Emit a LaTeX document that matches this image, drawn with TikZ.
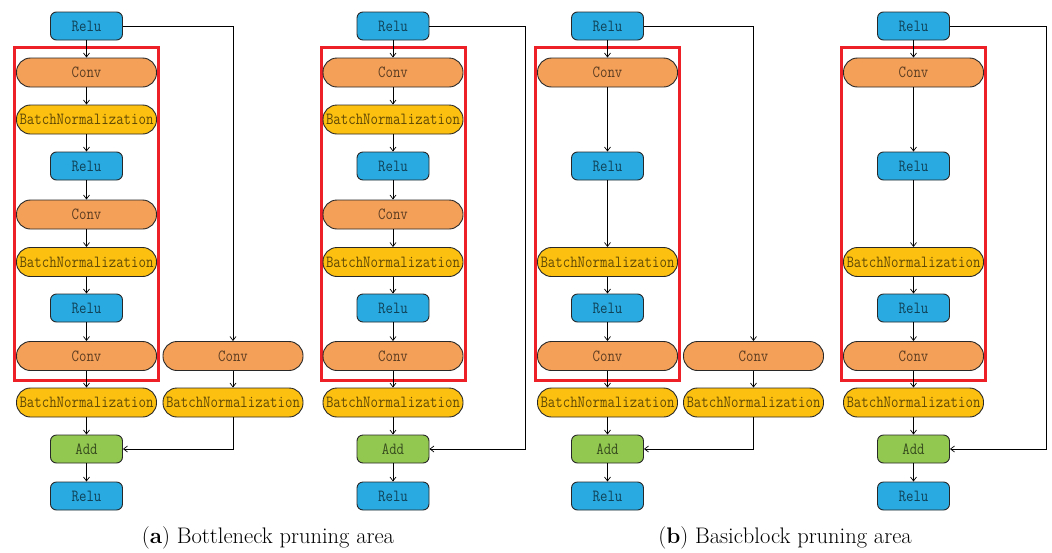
\documentclass[tikz,border=0pt]{standalone}
\usetikzlibrary{arrows.meta}
\definecolor{relublue}{RGB}{41,171,226}
\definecolor{convorange}{RGB}{244,160,88}
\definecolor{bnyellow}{RGB}{252,192,16}
\definecolor{addgreen}{RGB}{146,200,80}
\definecolor{boxred}{RGB}{237,32,40}
\definecolor{edgegray}{RGB}{40,40,40}
\newcommand{\lbl}[1]{\scalebox{0.85}[1]{#1}}
\tikzset{
  blk/.style={draw=edgegray,line width=0.9pt,text=black,text opacity=0.62,
    font=\fontsize{17}{18}\ttfamily,inner sep=0pt,anchor=center},
  relu/.style={blk,fill=relublue,rounded corners=6pt,minimum width=72pt,minimum height=28pt},
  addn/.style={blk,fill=addgreen,rounded corners=6pt,minimum width=72pt,minimum height=28pt},
  conv/.style={blk,fill=convorange,rounded corners=14pt,minimum width=140pt,minimum height=29pt},
  bn/.style={blk,fill=bnyellow,rounded corners=14pt,minimum width=140pt,minimum height=29pt},
  redbox/.style={draw=boxred,line width=3pt},
  arr/.style={draw=black,line width=0.7pt,-{Straight Barb[length=4pt,width=6pt]}},
  captext/.style={font=\fontsize{22.5}{26}\selectfont,inner sep=0pt}
}
\begin{document}
\begin{tikzpicture}[x=1pt,y=-1pt]
\useasboundingbox (0,0) rectangle (1052,552);
% ---------- column a1 (Bottleneck) ----------
\draw[redbox] (14.5,47) rectangle (158.5,380);
\node[relu] (a1r0) at (86.5,26) {\lbl{Relu}};
\node[conv] (a1c1) at (86.5,72.5) {\lbl{Conv}};
\node[bn]   (a1b1) at (86.5,119.5) {\lbl{BatchNormalization}};
\node[relu] (a1r1) at (86.5,166) {\lbl{Relu}};
\node[conv] (a1c2) at (86.5,214.5) {\lbl{Conv}};
\node[bn]   (a1b2) at (86.5,262) {\lbl{BatchNormalization}};
\node[relu] (a1r2) at (86.5,308) {\lbl{Relu}};
\node[conv] (a1c3) at (86.5,356) {\lbl{Conv}};
\node[bn]   (a1b3) at (86.5,402.5) {\lbl{BatchNormalization}};
\node[addn] (a1ad) at (86.5,449) {\lbl{Add}};
\node[relu] (a1r3) at (86.5,496) {\lbl{Relu}};
\node[conv] (a1sc) at (233,356) {\lbl{Conv}};
\node[bn]   (a1sb) at (233,402.5) {\lbl{BatchNormalization}};
\draw[arr] (a1r0) -- (a1c1);
\draw[arr] (a1c1) -- (a1b1);
\draw[arr] (a1b1) -- (a1r1);
\draw[arr] (a1r1) -- (a1c2);
\draw[arr] (a1c2) -- (a1b2);
\draw[arr] (a1b2) -- (a1r2);
\draw[arr] (a1r2) -- (a1c3);
\draw[arr] (a1c3) -- (a1b3);
\draw[arr] (a1b3) -- (a1ad);
\draw[arr] (a1ad) -- (a1r3);
\draw[arr] (a1r0.east) -| (a1sc.north);
\draw[arr] (a1sc) -- (a1sb);
\draw[arr] (a1sb.south) |- (a1ad.east);
% ---------- column a2 (Bottleneck, identity) ----------
\draw[redbox] (321,47) rectangle (465,380);
\node[relu] (a2r0) at (393,26) {\lbl{Relu}};
\node[conv] (a2c1) at (393,72.5) {\lbl{Conv}};
\node[bn]   (a2b1) at (393,119.5) {\lbl{BatchNormalization}};
\node[relu] (a2r1) at (393,166) {\lbl{Relu}};
\node[conv] (a2c2) at (393,214.5) {\lbl{Conv}};
\node[bn]   (a2b2) at (393,262) {\lbl{BatchNormalization}};
\node[relu] (a2r2) at (393,308) {\lbl{Relu}};
\node[conv] (a2c3) at (393,356) {\lbl{Conv}};
\node[bn]   (a2b3) at (393,402.5) {\lbl{BatchNormalization}};
\node[addn] (a2ad) at (393,449) {\lbl{Add}};
\node[relu] (a2r3) at (393,496) {\lbl{Relu}};
\coordinate (a2k) at (525,449);
\draw[arr] (a2r0) -- (a2c1);
\draw[arr] (a2c1) -- (a2b1);
\draw[arr] (a2b1) -- (a2r1);
\draw[arr] (a2r1) -- (a2c2);
\draw[arr] (a2c2) -- (a2b2);
\draw[arr] (a2b2) -- (a2r2);
\draw[arr] (a2r2) -- (a2c3);
\draw[arr] (a2c3) -- (a2b3);
\draw[arr] (a2b3) -- (a2ad);
\draw[arr] (a2ad) -- (a2r3);
\draw[arr] (a2r0.east) -| (a2k) -- (a2ad.east);
% ---------- column b1 (Basicblock) ----------
\draw[redbox] (535.5,47) rectangle (679.5,380);
\node[relu] (b1r0) at (607.5,26) {\lbl{Relu}};
\node[conv] (b1c1) at (607.5,72.5) {\lbl{Conv}};
\node[relu] (b1r1) at (607.5,166) {\lbl{Relu}};
\node[bn]   (b1b2) at (607.5,262) {\lbl{BatchNormalization}};
\node[relu] (b1r2) at (607.5,308) {\lbl{Relu}};
\node[conv] (b1c3) at (607.5,356) {\lbl{Conv}};
\node[bn]   (b1b3) at (607.5,402.5) {\lbl{BatchNormalization}};
\node[addn] (b1ad) at (607.5,449) {\lbl{Add}};
\node[relu] (b1r3) at (607.5,496) {\lbl{Relu}};
\node[conv] (b1sc) at (753.5,356) {\lbl{Conv}};
\node[bn]   (b1sb) at (753.5,402.5) {\lbl{BatchNormalization}};
\draw[arr] (b1r0) -- (b1c1);
\draw[arr] (b1c1) -- (b1r1);
\draw[arr] (b1r1) -- (b1b2);
\draw[arr] (b1b2) -- (b1r2);
\draw[arr] (b1r2) -- (b1c3);
\draw[arr] (b1c3) -- (b1b3);
\draw[arr] (b1b3) -- (b1ad);
\draw[arr] (b1ad) -- (b1r3);
\draw[arr] (b1r0.east) -| (b1sc.north);
\draw[arr] (b1sc) -- (b1sb);
\draw[arr] (b1sb.south) |- (b1ad.east);
% ---------- column b2 (Basicblock, identity) ----------
\draw[redbox] (841.5,47) rectangle (985.5,380);
\node[relu] (b2r0) at (913.5,26) {\lbl{Relu}};
\node[conv] (b2c1) at (913.5,72.5) {\lbl{Conv}};
\node[relu] (b2r1) at (913.5,166) {\lbl{Relu}};
\node[bn]   (b2b2) at (913.5,262) {\lbl{BatchNormalization}};
\node[relu] (b2r2) at (913.5,308) {\lbl{Relu}};
\node[conv] (b2c3) at (913.5,356) {\lbl{Conv}};
\node[bn]   (b2b3) at (913.5,402.5) {\lbl{BatchNormalization}};
\node[addn] (b2ad) at (913.5,449) {\lbl{Add}};
\node[relu] (b2r3) at (913.5,496) {\lbl{Relu}};
\coordinate (b2k) at (1046,449);
\draw[arr] (b2r0) -- (b2c1);
\draw[arr] (b2c1) -- (b2r1);
\draw[arr] (b2r1) -- (b2b2);
\draw[arr] (b2b2) -- (b2r2);
\draw[arr] (b2r2) -- (b2c3);
\draw[arr] (b2c3) -- (b2b3);
\draw[arr] (b2b3) -- (b2ad);
\draw[arr] (b2ad) -- (b2r3);
\draw[arr] (b2r0.east) -| (b2k) -- (b2ad.east);
% ---------- captions ----------
\node[captext] (capa) at (268,538) {(\textbf{a}) Bottleneck pruning area};
\node[captext] (capb) at (785,538) {(\textbf{b}) Basicblock pruning area};
\end{tikzpicture}
\end{document}
